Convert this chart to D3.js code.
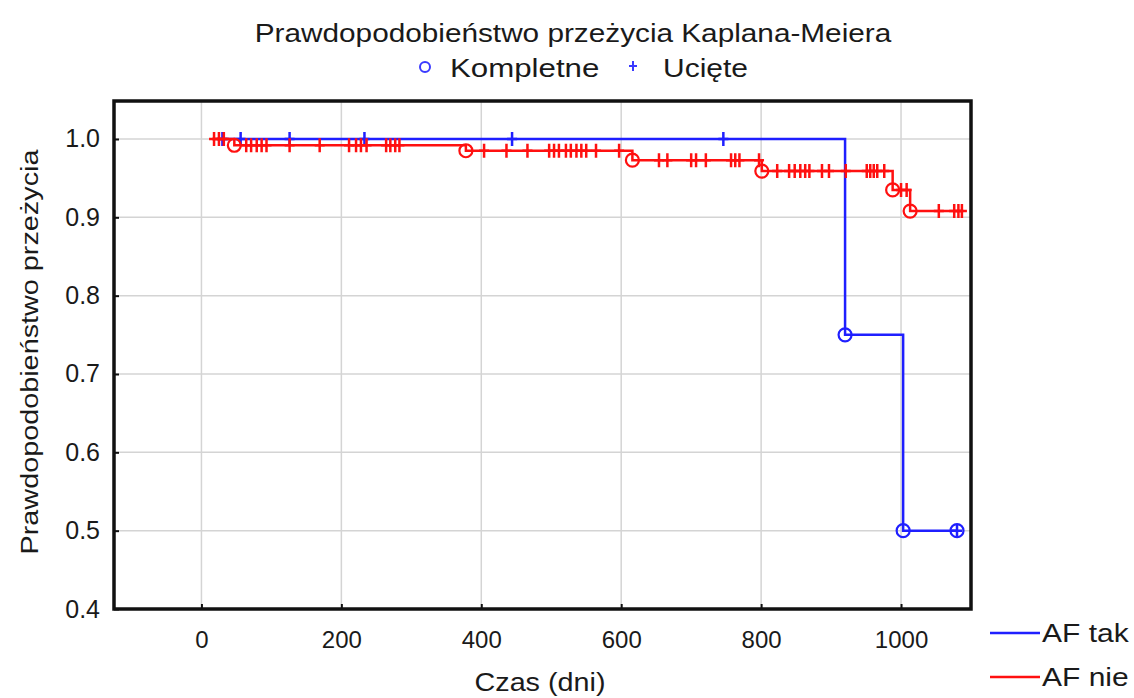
<!DOCTYPE html>
<html>
<head>
<meta charset="utf-8">
<script src="https://cdn.jsdelivr.net/npm/d3@7"></script>
<style>
  html, body { margin: 0; padding: 0; background: #fff; }
  svg text { font-family: "Liberation Sans", Arial, sans-serif; fill: #1a1a1a; }
</style>
</head>
<body>
<svg id="chart" width="1134" height="698"></svg>
<script>
// Kaplan-Meier survival curves: AF tak vs AF nie

const xTicks = [0, 200, 400, 600, 800, 1000]
const yTicks = [0.4, 0.5, 0.6, 0.7, 0.8, 0.9, 1.0]

// AF tak (blue)
const takTimes = [22, 920, 1003, 1080]
const takSurv = [1.0, 0.75, 0.5, 0.5]
const takEvents = [920, 1003, 1080]
const takCensored = [30, 56, 126, 233, 444, 746, 1080]

// AF nie (red)
const nieTimes = [15, 47, 378, 616, 801, 988, 1013, 1088]
const nieSurv = [1.0, 0.992, 0.985, 0.973, 0.959, 0.935, 0.908, 0.908]
const nieEvents = [47, 378, 616, 801, 988, 1013]
const nieCensored = [18, 25, 32, 64, 71, 79, 86, 93, 126, 169, 211, 221, 228, 236,
  264, 270, 277, 283, 404, 436, 466, 497, 504, 511, 521, 528, 536, 543, 550, 564,
  597, 654, 666, 700, 707, 721, 757, 763, 769, 797, 823, 840, 848, 856, 863, 869,
  887, 897, 921, 951, 956, 961, 966, 976, 1000, 1008, 1054, 1076, 1082, 1087]

const series = [
  { name: 'AF tak', color: '#1f1fff', times: takTimes, surv: takSurv, events: takEvents, censored: takCensored },
  { name: 'AF nie', color: '#ff1010', times: nieTimes, surv: nieSurv, events: nieEvents, censored: nieCensored }
]

const margin = { left: 114, top: 101, right: 1134 - 971, bottom: 698 - 609 }
const W = 1134, H = 698
const svg = d3.select('#chart')

const x = d3.scaleLinear().domain([-125, 1100]).range([margin.left, W - margin.right])
const y = d3.scaleLinear().domain([0.4, 1.0485]).range([H - margin.bottom, margin.top])

// step lookup
function survAt(s, t) {
  let v = s.surv[0]
  s.times.forEach((tt, i) => { if (tt <= t) v = s.surv[i] })
  return v
}

// text that is a bit wider than the font, like the source image
function wideText(parent, tx, ty, str, opts = {}) {
  const { size = 25, sx = 1.2, anchor = 'start', rotate = 0 } = opts
  return parent.append('text')
    .attr('transform', `translate(${tx},${ty}) rotate(${rotate}) scale(${sx},1)`)
    .attr('text-anchor', anchor)
    .attr('font-size', size)
    .text(str)
}

// Grid
const grid = svg.append('g')
grid.selectAll('line.v').data(xTicks).join('line')
  .attr('x1', d => x(d)).attr('x2', d => x(d))
  .attr('y1', y.range()[1]).attr('y2', y.range()[0])
  .attr('stroke', '#d4d4d4').attr('stroke-width', 1.5)
grid.selectAll('line.h').data(yTicks.slice(1)).join('line')
  .attr('x1', x.range()[0]).attr('x2', x.range()[1])
  .attr('y1', d => y(d)).attr('y2', d => y(d))
  .attr('stroke', '#d4d4d4').attr('stroke-width', 1.5)

// Axes (inward ticks, labels)
const xAxis = svg.append('g')
  .attr('transform', `translate(0,${y.range()[0]})`)
  .call(d3.axisBottom(x).tickValues(xTicks).tickSize(-5).tickPadding(22).tickFormat(d3.format('d')))
const yAxis = svg.append('g')
  .attr('transform', `translate(${x.range()[0]},0)`)
  .call(d3.axisLeft(y).tickValues(yTicks).tickSize(-5).tickPadding(14).tickFormat(d3.format('.1f')))
;[xAxis, yAxis].forEach(a => {
  a.select('.domain').remove()
  a.selectAll('.tick line').attr('stroke', '#111').attr('stroke-width', 2)
  a.selectAll('.tick text').attr('font-size', 24).attr('fill', '#1a1a1a')
    .style('font-family', '"Liberation Sans", Arial, sans-serif')
})
yAxis.selectAll('.tick text').attr('font-size', 25)

// Curves
const line = d3.line().x(d => x(d[0])).y(d => y(d[1])).curve(d3.curveStepAfter)
const plus = 'M-5,0H5M0,-7V7'

series.forEach(s => {
  const g = svg.append('g')
  g.append('path')
    .datum(s.times.map((t, i) => [t, s.surv[i]]))
    .attr('d', line)
    .attr('fill', 'none').attr('stroke', s.color).attr('stroke-width', 2.5)
  g.selectAll('path.cens').data(s.censored).join('path')
    .attr('class', 'cens')
    .attr('d', plus)
    .attr('transform', d => `translate(${x(d)},${y(survAt(s, d))})`)
    .attr('stroke', s.color).attr('stroke-width', 2.5).attr('fill', 'none')
  g.selectAll('circle').data(s.events).join('circle')
    .attr('cx', d => x(d)).attr('cy', d => y(survAt(s, d)))
    .attr('r', 6.5)
    .attr('fill', 'none').attr('stroke', s.color).attr('stroke-width', 2.2)
})

// Frame
svg.append('rect')
  .attr('x', x.range()[0]).attr('y', y.range()[1])
  .attr('width', x.range()[1] - x.range()[0]).attr('height', y.range()[0] - y.range()[1])
  .attr('fill', 'none').attr('stroke', '#111').attr('stroke-width', 3.5)

// Titles
wideText(svg, 573, 42, 'Prawdopodobieństwo przeżycia Kaplana-Meiera', { anchor: 'middle', sx: 1.19 })
wideText(svg, 540, 691, 'Czas (dni)', { anchor: 'middle', sx: 1.15 })
wideText(svg, 38, 352, 'Prawdopodobieństwo przeżycia', { anchor: 'middle', rotate: -90, sx: 1.2, size: 24 })

// Top legend: marker types
const topLeg = svg.append('g')
topLeg.append('circle').attr('cx', 425).attr('cy', 67).attr('r', 5)
  .attr('fill', 'none').attr('stroke', '#3a3aff').attr('stroke-width', 2)
wideText(topLeg, 450, 77, 'Kompletne', { sx: 1.25 })
topLeg.append('path').attr('d', 'M-4,0H4M0,-5V5')
  .attr('transform', 'translate(633,66)')
  .attr('stroke', '#3a3aff').attr('stroke-width', 2)
wideText(topLeg, 663, 77, 'Ucięte', { sx: 1.2 })

// Series legend
const leg = svg.append('g')
leg.selectAll('line').data(series).join('line')
  .attr('x1', 990).attr('x2', 1040)
  .attr('y1', (d, i) => 633 + i * 44).attr('y2', (d, i) => 633 + i * 44)
  .attr('stroke', d => d.color).attr('stroke-width', 2.5)
series.forEach((d, i) => wideText(leg, 1042, 642 + i * 44, d.name, { sx: 1.2 }))
</script>
</body>
</html>
